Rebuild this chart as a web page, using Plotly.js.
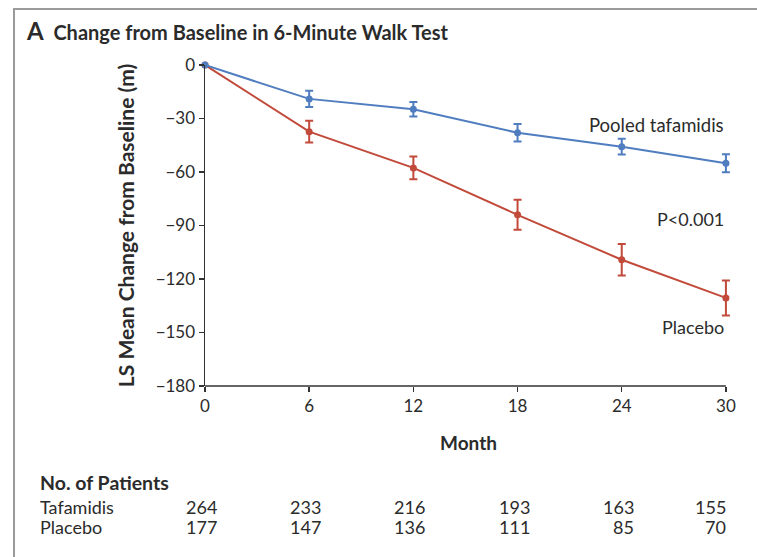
<!DOCTYPE html>
<html>
<head>
<meta charset="utf-8">
<script src="https://cdn.plot.ly/plotly-3.0.1.min.js"></script>
<style>
html,body{margin:0;padding:0;background:#fff;}
#frame{position:absolute;left:13px;top:8px;right:0;bottom:0;border-left:2px solid #9a9a9a;border-top:2px solid #9a9a9a;}
#chart{position:absolute;left:0;top:0;width:757px;height:557px;}
</style>
</head>
<body>
<div id="frame"></div>
<div id="chart"></div>
<script>
const months = [0, 6, 12, 18, 24, 30];
const tafamidis = [0, -19.0, -24.8, -38.0, -45.8, -55.1];
const tafamidisErr = [0, 4.5, 4.1, 4.9, 4.4, 5.0];
const placebo = [0, -37.4, -57.7, -84.0, -109.2, -130.6];
const placeboErr = [0, 6.1, 6.4, 8.4, 8.8, 9.8];
const yTicks = [0, -30, -60, -90, -120, -150, -180];
const patientsTafamidis = [264, 233, 216, 193, 163, 155];
const patientsPlacebo = [177, 147, 136, 111, 85, 70];

const FONT = 'Lato, "Noto Sans", sans-serif';
const BLUE = '#4f7dbf';
const RED = '#c24a3a';
const TXT = '#2b2b2b';
const AX = '#333';

function series(y, err, color, name) {
  return {
    x: months, y: y, name: name, type: 'scatter', mode: 'lines+markers',
    line: {color: color, width: 2},
    marker: {color: color, size: 7},
    error_y: {type: 'data', array: err, visible: true, color: color, thickness: 2, width: 4},
    cliponaxis: false, showlegend: false, hoverinfo: 'x+y'
  };
}

const traces = [
  series(placebo, placeboErr, RED, 'Placebo'),
  series(tafamidis, tafamidisErr, BLUE, 'Pooled tafamidis')
];

const LBLX = -0.317;
const annotations = [
  {xref: 'x', yref: 'y', x: 30, y: -33.5, xanchor: 'right', yanchor: 'middle', showarrow: false,
   text: 'Pooled tafamidis', font: {family: FONT, size: 18.5, color: TXT}},
  {xref: 'x', yref: 'y', x: 30, y: -86.6, xanchor: 'right', yanchor: 'middle', showarrow: false,
   text: 'P<0.001', font: {family: FONT, size: 18, color: TXT}},
  {xref: 'x', yref: 'y', x: 30, y: -147, xanchor: 'right', yanchor: 'middle', showarrow: false,
   text: 'Placebo', font: {family: FONT, size: 18, color: TXT}},
  {xref: 'paper', yref: 'paper', x: LBLX, y: -0.302, xanchor: 'left', yanchor: 'middle', showarrow: false,
   text: '<b>No. of Patients</b>', font: {family: FONT, size: 19.5, color: TXT}},
  {xref: 'paper', yref: 'paper', x: LBLX, y: -0.377, xanchor: 'left', yanchor: 'middle', showarrow: false,
   text: 'Tafamidis', font: {family: FONT, size: 18, color: TXT}},
  {xref: 'paper', yref: 'paper', x: LBLX, y: -0.439, xanchor: 'left', yanchor: 'middle', showarrow: false,
   text: 'Placebo', font: {family: FONT, size: 18, color: TXT}}
];
[patientsTafamidis, patientsPlacebo].forEach(function (row, r) {
  row.forEach(function (n, i) {
    const last = i === months.length - 1;
    annotations.push({
      xref: 'x', yref: 'paper', x: months[i], y: r === 0 ? -0.377 : -0.439,
      xanchor: 'right', yanchor: 'middle', xshift: last ? 2 : 14, showarrow: false,
      text: String(n), font: {family: FONT, size: 18, color: TXT}
    });
  });
});

const layout = {
  width: 757, height: 557,
  paper_bgcolor: 'rgba(0,0,0,0)', plot_bgcolor: 'rgba(0,0,0,0)',
  margin: {l: 205, r: 25, t: 65, b: 171},
  font: {family: FONT, color: TXT},
  title: {
    text: '<b><span style="font-size:24px">A</span>  Change from Baseline in 6-Minute Walk Test</b>',
    font: {family: FONT, size: 20, color: TXT},
    xref: 'container', yref: 'container', x: 27 / 757, xanchor: 'left',
    y: 1 - 33 / 557, yanchor: 'middle'
  },
  xaxis: {
    range: [0, 30.35], tickvals: months, ticktext: months.map(String),
    showgrid: false, zeroline: false, showline: false,
    ticks: 'outside', ticklen: 5, tickwidth: 1.5, tickcolor: AX,
    tickfont: {family: FONT, size: 17, color: TXT},
    title: {text: '<b>Month</b>', font: {family: FONT, size: 19, color: TXT}, standoff: 21}
  },
  yaxis: {
    range: [-180, 0], tickvals: yTicks, ticktext: yTicks.map(v => v < 0 ? '\u2212' + Math.abs(v) : String(v)),
    showgrid: false, zeroline: false, showline: true, linecolor: AX, linewidth: 1.5,
    ticks: 'outside', ticklen: 5, tickwidth: 1.5, tickcolor: AX,
    tickfont: {family: FONT, size: 17, color: TXT},
    title: {text: '<b>LS Mean Change from Baseline (m)</b>', font: {family: FONT, size: 21, color: TXT}, standoff: 15}
  },
  shapes: [
    {type: 'line', xref: 'x', yref: 'paper', x0: months[0], x1: months[months.length - 1], y0: 0, y1: 0,
     line: {color: AX, width: 1.5}, layer: 'below'}
  ],
  annotations: annotations,
  showlegend: false
};

Plotly.newPlot('chart', traces, layout, {displayModeBar: false, staticPlot: true});
</script>
</body>
</html>
